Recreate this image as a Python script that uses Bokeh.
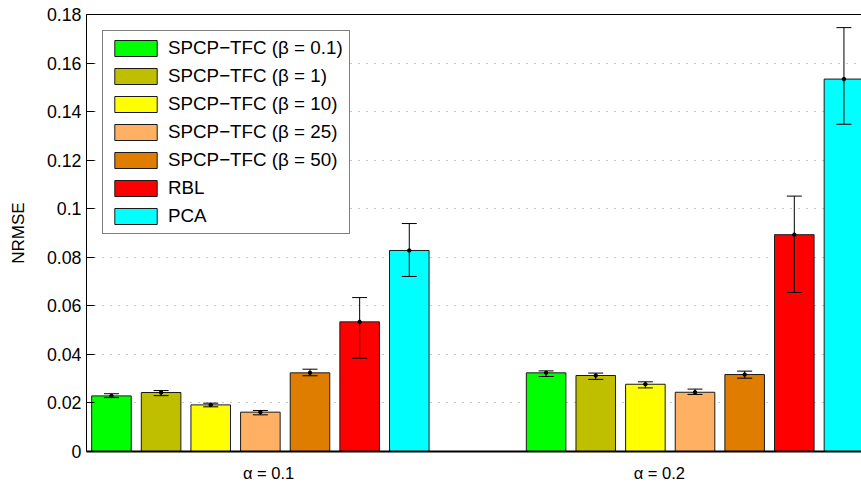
from bokeh.plotting import figure
from bokeh.models import (ColumnDataSource, Whisker, TeeHead, LinearAxis, FixedTicker,
                          NumeralTickFormatter, Range1d)
from bokeh.embed import file_html
from bokeh.resources import INLINE

# ---- data ----
group_pos = [1, 2]
group_labels = ["\u03b1 = 0.1", "\u03b1 = 0.2"]
group_label_pos = [1.019, 1.918]
methods = ["SPCP\u2212TFC (\u03b2 = 0.1)", "SPCP\u2212TFC (\u03b2 = 1)", "SPCP\u2212TFC (\u03b2 = 10)",
           "SPCP\u2212TFC (\u03b2 = 25)", "SPCP\u2212TFC (\u03b2 = 50)", "RBL", "PCA"]
colors = ["#00ff00", "#bfbf00", "#ffff00", "#ffb062", "#df7d00", "#ff0000", "#00ffff"]

# mean NRMSE per method, [alpha=0.1, alpha=0.2]
mean_vals = [
    [0.0229, 0.0324],
    [0.0243, 0.0313],
    [0.0192, 0.0277],
    [0.0162, 0.0244],
    [0.0324, 0.0317],
    [0.0534, 0.0893],
    [0.0828, 0.1534],
]
lower_vals = [
    [0.0222, 0.0309],
    [0.0230, 0.0297],
    [0.0184, 0.0262],
    [0.0151, 0.0235],
    [0.0312, 0.0302],
    [0.0384, 0.0655],
    [0.0721, 0.1348],
]
upper_vals = [
    [0.0238, 0.0332],
    [0.0251, 0.0323],
    [0.0199, 0.0287],
    [0.0169, 0.0257],
    [0.0339, 0.0331],
    [0.0634, 0.1052],
    [0.0939, 0.1746],
]
y_ticks = [0, 0.02, 0.04, 0.06, 0.08, 0.1, 0.12, 0.14, 0.16, 0.18]

FONT = "Liberation Sans"
pitch = 0.1142
bar_w = 0.091

p = figure(width=861, height=491, output_backend="svg", toolbar_location=None,
           x_range=Range1d(0.6, 2.383), y_range=Range1d(0, 0.18),
           min_border_left=86, min_border_right=0, min_border_top=14, min_border_bottom=40)
p.outline_line_color = None
p.background_fill_color = "white"
p.border_fill_color = "white"

n = len(methods)
for k in range(n):
    xs = [g + (k - (n - 1) / 2) * pitch for g in group_pos]
    src = ColumnDataSource(dict(x=xs, top=mean_vals[k], lower=lower_vals[k], upper=upper_vals[k]))
    p.vbar(x="x", top="top", width=bar_w, source=src, fill_color=colors[k],
           line_color="#1a1a1a", line_width=1, legend_label=methods[k])
    w = Whisker(base="x", lower="lower", upper="upper", source=src, dimension="height",
                line_color="black", line_width=1,
                upper_head=TeeHead(size=15, line_color="black", line_width=1),
                lower_head=TeeHead(size=15, line_color="black", line_width=1))
    w.level = "overlay"
    p.add_layout(w)
    p.scatter(x="x", y="top", source=src, size=3.5, color="black")

# y axis
p.yaxis.ticker = FixedTicker(ticks=y_ticks)
p.yaxis.formatter = NumeralTickFormatter(format="0.[00]")
p.yaxis.major_tick_in = 8
p.yaxis.major_tick_out = 0
p.yaxis.minor_tick_line_color = None
p.yaxis.major_label_standoff = 5
p.yaxis.axis_label = "NRMSE"
p.yaxis.axis_label_text_font = FONT
p.yaxis.axis_label_text_font_size = "17px"
p.yaxis.axis_label_text_font_style = "normal"
p.yaxis.axis_label_text_color = "black"
p.yaxis.axis_label_standoff = 16
p.yaxis.major_label_text_font = FONT
p.yaxis.major_label_text_font_size = "17.8px"
p.yaxis.major_label_text_color = "black"
p.yaxis.axis_line_color = "black"

# x axis
p.xaxis.ticker = FixedTicker(ticks=group_label_pos)
p.xaxis.major_label_overrides = {group_label_pos[i]: group_labels[i] for i in range(2)}
p.xaxis.major_tick_in = 0
p.xaxis.major_tick_out = 0
p.xaxis.minor_tick_line_color = None
p.xaxis.major_label_standoff = 12
p.xaxis.major_label_text_font = FONT
p.xaxis.major_label_text_font_size = "16.5px"
p.xaxis.major_label_text_color = "black"
p.xaxis.axis_line_color = "black"
p.xaxis.axis_line_width = 2

top_axis = LinearAxis(ticker=FixedTicker(ticks=[]), axis_line_color="black",
                      major_tick_in=0, major_tick_out=0, minor_tick_line_color=None,
                      major_label_text_font_size="0px")
p.add_layout(top_axis, "above")

# grid
p.xgrid.grid_line_color = None
p.ygrid.ticker = FixedTicker(ticks=y_ticks[1:-1])
p.ygrid.grid_line_color = "#8c8c8c"
p.ygrid.grid_line_dash = "1 7"
p.ygrid.grid_line_width = 1

# legend
lg = p.legend[0]
lg.location = "top_left"
lg.margin = 16
lg.padding = 6
lg.spacing = 6
lg.glyph_width = 53
lg.glyph_height = 20
lg.label_height = 20
lg.label_standoff = 6
lg.label_text_font = FONT
lg.label_text_font_size = "18.8px"
lg.label_text_color = "black"
lg.border_line_color = "black"
lg.border_line_width = 1
lg.background_fill_alpha = 1

open("out.html", "w").write(file_html(p, INLINE))
